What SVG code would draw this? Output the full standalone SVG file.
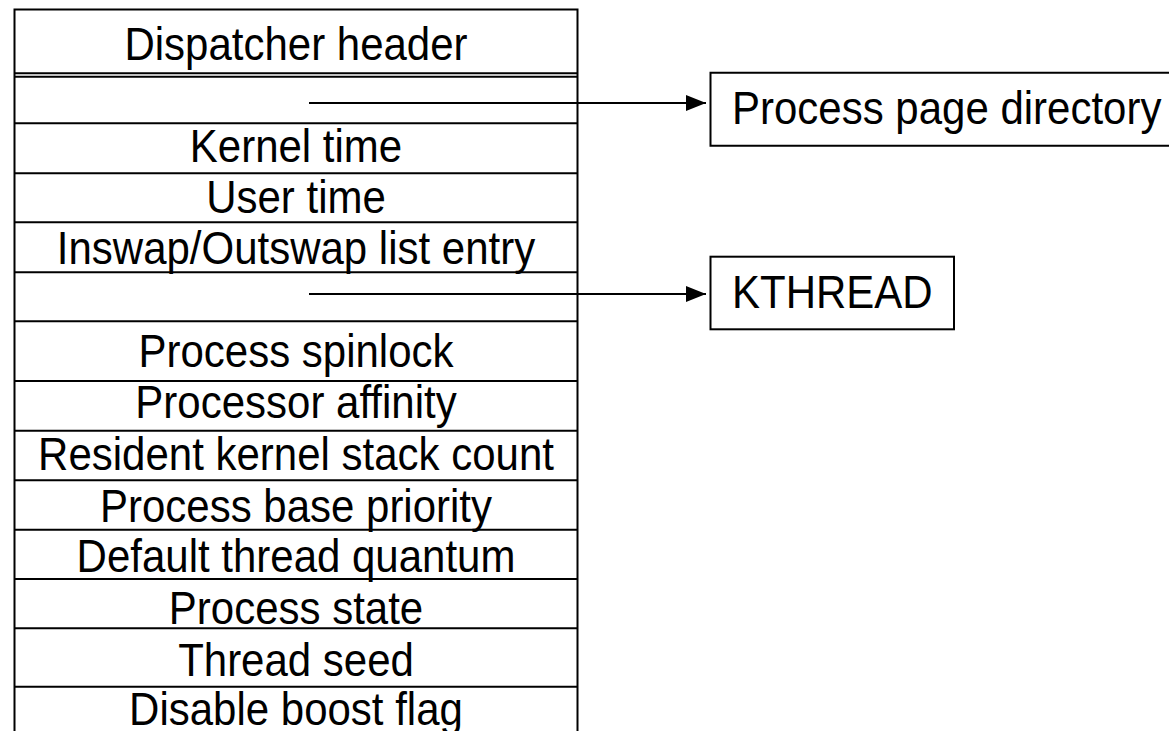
<svg xmlns="http://www.w3.org/2000/svg" width="1169" height="731" viewBox="0 0 1169 731">
  <style>
    .lbl { font-family: "Liberation Sans", Arial, sans-serif; font-size: 42px; fill: #000; }
    .mid { text-anchor: middle; }
    .edge { stroke: #000; stroke-width: 2; fill: none; }
    .sep { stroke: #000; stroke-width: 2; }
    .link { stroke: #000; stroke-width: 2; fill: none; marker-end: url(#head); }
  </style>
  <defs>
    <marker id="head" viewBox="0 0 20 16" refX="20" refY="8" markerWidth="20" markerHeight="16" markerUnits="userSpaceOnUse" orient="auto">
      <path d="M0,0 L20,8 L0,16 Z" fill="#000"/>
    </marker>
  </defs>
  <rect width="1169" height="731" fill="#fff"/>

  <!-- KPROCESS block: outer frame runs past the bottom edge -->
  <g id="kprocess">
    <path class="edge" d="M14.5,740 V9.5 H577.5 V740"/>
    <line class="sep" x1="14.5" y1="73.3" x2="577.5" y2="73.3"/>
    <line class="sep" x1="14.5" y1="76.8" x2="577.5" y2="76.8"/>
    <line class="sep" x1="14.5" y1="123.3" x2="577.5" y2="123.3"/>
    <line class="sep" x1="14.5" y1="173.3" x2="577.5" y2="173.3"/>
    <line class="sep" x1="14.5" y1="222.3" x2="577.5" y2="222.3"/>
    <line class="sep" x1="14.5" y1="272.3" x2="577.5" y2="272.3"/>
    <line class="sep" x1="14.5" y1="321.3" x2="577.5" y2="321.3"/>
    <line class="sep" x1="14.5" y1="381" x2="577.5" y2="381"/>
    <line class="sep" x1="14.5" y1="430.7" x2="577.5" y2="430.7"/>
    <line class="sep" x1="14.5" y1="480.3" x2="577.5" y2="480.3"/>
    <line class="sep" x1="14.5" y1="529.7" x2="577.5" y2="529.7"/>
    <line class="sep" x1="14.5" y1="579" x2="577.5" y2="579"/>
    <line class="sep" x1="14.5" y1="628.3" x2="577.5" y2="628.3"/>
    <line class="sep" x1="14.5" y1="686.7" x2="577.5" y2="686.7"/>

    <!-- field labels, slightly stretched vertically -->
    <text class="lbl mid" transform="translate(296,60) scale(1,1.12)">Dispatcher header</text>
    <text class="lbl mid" transform="translate(296,162) scale(1,1.12)">Kernel time</text>
    <text class="lbl mid" transform="translate(296,213) scale(1,1.12)">User time</text>
    <text class="lbl mid" transform="translate(296,264) scale(1,1.12)">Inswap/Outswap list entry</text>
    <text class="lbl mid" transform="translate(296,367) scale(1,1.12)">Process spinlock</text>
    <text class="lbl mid" transform="translate(296,418) scale(1,1.12)">Processor affinity</text>
    <text class="lbl mid" transform="translate(296,470) scale(1,1.12)">Resident kernel stack count</text>
    <text class="lbl mid" transform="translate(296,522) scale(1,1.12)">Process base priority</text>
    <text class="lbl mid" transform="translate(296,572) scale(1,1.12)">Default thread quantum</text>
    <text class="lbl mid" transform="translate(296,624) scale(1,1.12)">Process state</text>
    <text class="lbl mid" transform="translate(296,676) scale(1,1.12)">Thread seed</text>
    <text class="lbl mid" transform="translate(296,725) scale(1,1.12)">Disable boost flag</text>
  </g>

  <!-- Page directory target (box continues past the right edge) -->
  <g id="page-directory">
    <path class="edge" d="M1180,72.7 H710.5 V145.7 H1180"/>
    <text class="lbl" transform="translate(732,124) scale(1,1.12)">Process page directory</text>
  </g>

  <!-- Thread list target -->
  <g id="kthread">
    <rect class="edge" x="710.5" y="256.7" width="243.5" height="72.6"/>
    <text class="lbl" transform="translate(732,308) scale(1,1.12)">KTHREAD</text>
  </g>

  <g id="connectors">
    <line class="link" x1="309" y1="103" x2="706" y2="103"/>
    <line class="link" x1="309" y1="294" x2="706" y2="294"/>
  </g>
</svg>
